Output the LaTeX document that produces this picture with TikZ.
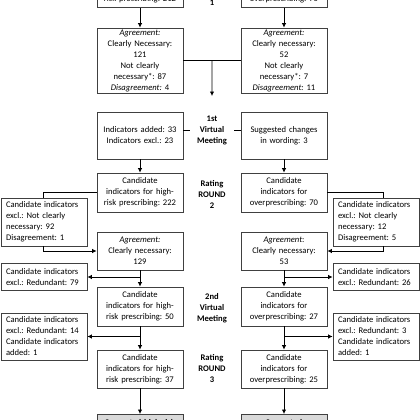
\documentclass[tikz,border=0pt]{standalone}
\usepackage{fontspec}
\setmainfont{Carlito}
\usetikzlibrary{arrows.meta,calc}
\frenchspacing
\newcommand\fsz{\fontsize{8.6}{11}\selectfont}
\definecolor{bordergray}{HTML}{404040}
\definecolor{fillgray}{HTML}{D9D9D9}
\tikzset{
  box/.style={draw=bordergray, line width=0.7pt, fill=white, font=\fsz, align=center,
    text width=78pt, inner xsep=4pt, inner ysep=0pt},
  mainbox/.style={box, minimum height=39pt},
  sidebox/.style={draw=bordergray, line width=0.7pt, fill=white, font=\fsz, align=left,
    text width=76pt, inner xsep=5pt, inner ysep=0pt},
  lbl/.style={font=\fsz\bfseries, align=center, inner sep=0pt, minimum width=44pt},
  conn/.style={line width=0.8pt, black},
  arr/.style={conn, -{Latex[length=4.5pt,width=4.5pt]}},
}
\begin{document}
\begin{tikzpicture}[x=1pt,y=-1pt]
\useasboundingbox (0,0) rectangle (420,420);
\clip (0,0) rectangle (420,420);
% Round 1
\node[mainbox, anchor=south] (t1) at (140,8) {Candidate\\indicators for high-\\risk prescribing: 212};
\node[mainbox, anchor=south] (t2) at (284,8) {Candidate\\indicators for\\overprescribing: 70};
\node[lbl] (r1) at (212,-9) {Rating\\ROUND\\1};
\node[box, minimum height=65pt] (a1) at (140,60.5) {\textit{Agreement:}\\Clearly Necessary:\\121\\Not clearly\\necessary*: 87\\\textit{Disagreement:} 4};
\node[box, minimum height=65pt] (a2) at (284,60.5) {\textit{Agreement:}\\Clearly necessary:\\52\\Not clearly\\necessary*: 7\\\textit{Disagreement:} 11};
\draw[arr] (t1.south) -- (a1.north);
\draw[arr] (t2.south) -- (a2.north);
\draw[conn] (a1.east) -- (a2.west);
\coordinate (j1) at ($(a1.east)!0.5!(a2.west)$);
% 1st meeting
\node[box, minimum height=47pt] (b1) at (140,135.5) {Indicators added: 33\\Indicators excl.: 23};
\node[box, minimum height=47pt] (b2) at (284,135.5) {Suggested changes\\in wording: 3};
\node[lbl] (m1) at (212,130.5) {1st\\Virtual\\Meeting};
\coordinate (m1top) at (212,96);
\draw[arr] (j1) -- (m1top);
\draw[conn] (m1.west) -- (m1.west -| b1.east);
\draw[conn] (m1.east) -- (m1.east -| b2.west);
% Round 2
\node[mainbox] (c1) at (140,192.5) {Candidate\\indicators for high-\\risk prescribing: 222};
\node[mainbox] (c2) at (284,192.5) {Candidate\\indicators for\\overprescribing: 70};
\node[lbl] (r2) at (212,194) {Rating\\ROUND\\2};
\draw[arr] (b1.south) -- (c1.north);
\draw[arr] (b2.south) -- (c2.north);
\node[sidebox, minimum height=48pt] (e1) at (44,222) {Candidate indicators\\excl.: Not clearly\\necessary: 92\\Disagreement: 1};
\node[sidebox, minimum height=48pt] (e2) at (376,222) {Candidate indicators\\excl.: Not clearly\\necessary: 12\\Disagreement: 5};
\node[box, minimum height=38pt] (g1) at (140,251) {\textit{Agreement:}\\Clearly necessary:\\129};
\node[box, minimum height=38pt] (g2) at (284,251) {\textit{Agreement}:\\Clearly necessary:\\53};
\draw[conn] (c1.west) -| ([xshift=-1pt]e1.north);
\draw[arr] ([xshift=-1pt]e1.south) |- (g1.west);
\draw[conn] (c2.east) -| ([xshift=7pt]e2.north);
\draw[arr] ([xshift=7pt]e2.south) |- (g2.east);
\node[sidebox, minimum height=27pt] (f1) at (44,277) {Candidate indicators\\excl.: Redundant: 79};
\node[sidebox, minimum height=27pt] (f2) at (376,277) {Candidate indicators\\excl.: Redundant: 26};
% 2nd meeting
\node[mainbox] (h1) at (140,306.5) {Candidate\\indicators for high-\\risk prescribing: 50};
\node[mainbox] (h2) at (284,306.5) {Candidate\\indicators for\\overprescribing: 27};
\node[lbl] (m2) at (212,308) {2nd\\Virtual\\Meeting};
\draw[arr] (g1.south) -- (h1.north);
\draw[arr] (g1.south |- f1.east) -- (f1.east);
\draw[arr] (g2.south) -- (h2.north);
\draw[arr] (g2.south |- f2.west) -- (f2.west);
\node[sidebox, minimum height=47pt] (k1) at (44,336.5) {Candidate indicators\\excl.: Redundant: 14\\Candidate indicators\\added: 1};
\node[sidebox, minimum height=47pt] (k2) at (376,336.5) {Candidate indicators\\excl.: Redundant: 3\\Candidate indicators\\added: 1};
% Round 3
\node[box, minimum height=38pt] (n1) at (140,369) {Candidate\\indicators for high-\\risk prescribing: 37};
\node[box, minimum height=38pt] (n2) at (284,369) {Candidate\\indicators for\\overprescribing: 25};
\node[lbl] (r3) at (212,369) {Rating\\ROUND\\3};
\draw[arr] (h1.south) -- (n1.north);
\draw[arr] (h1.south |- k1.east) -- (k1.east);
\draw[arr] (h2.south) -- (n2.north);
\draw[arr] (h2.south |- k2.west) -- (k2.west);
% Final
\node[box, fill=fillgray, anchor=north, inner ysep=4pt, minimum height=30pt, font=\fsz\bfseries] (s1) at (140,414) {Suggested high-risk\\\strut};
\node[box, fill=fillgray, anchor=north, inner ysep=4pt, minimum height=30pt, font=\fsz\bfseries] (s2) at (284,414) {Suggested\\\strut};
\draw[arr] (n1.south) -- (s1.north);
\draw[arr] (n2.south) -- (s2.north);
\end{tikzpicture}
\end{document}
